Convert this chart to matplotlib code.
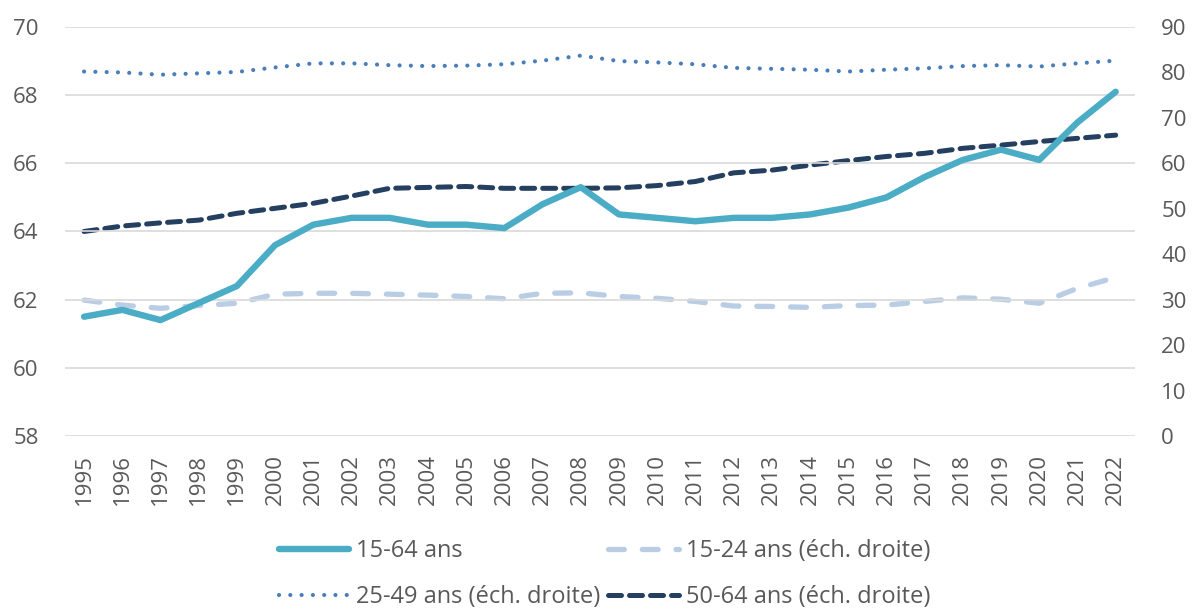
import numpy as np
import matplotlib.pyplot as plt

years = list(range(1995, 2023))

# taux d'emploi (%)
emp_15_64 = [61.5, 61.7, 61.4, 61.9, 62.4, 63.6, 64.2, 64.4, 64.4, 64.2,
             64.2, 64.1, 64.8, 65.3, 64.5, 64.4, 64.3, 64.4, 64.4, 64.5,
             64.7, 65.0, 65.6, 66.1, 66.4, 66.1, 67.2, 68.1]
emp_15_24 = [29.9, 28.8, 28.1, 28.7, 29.2, 31.2, 31.4, 31.4, 31.2, 31.0,
             30.7, 30.2, 31.4, 31.5, 30.7, 30.3, 29.6, 28.6, 28.5, 28.3,
             28.7, 28.8, 29.6, 30.4, 30.1, 29.2, 32.5, 34.9]
emp_25_49 = [80.2, 80.0, 79.5, 79.8, 80.1, 81.1, 82.0, 82.0, 81.6, 81.4,
             81.5, 81.8, 82.6, 83.7, 82.5, 82.2, 81.8, 81.0, 80.8, 80.6,
             80.2, 80.6, 80.9, 81.4, 81.6, 81.3, 82.0, 82.6]
emp_50_64 = [45.0, 46.2, 46.9, 47.5, 49.0, 50.1, 51.2, 52.8, 54.5, 54.7,
             54.9, 54.5, 54.5, 54.5, 54.6, 55.1, 56.0, 57.9, 58.5, 59.6,
             60.6, 61.5, 62.2, 63.3, 64.0, 64.8, 65.5, 66.2]

plt.rcParams['font.family'] = ['Open Sans', 'DejaVu Sans']
txt = '#595959'

fig = plt.figure(figsize=(11.92, 6.12), dpi=100)
ax = fig.add_axes([0.0545, 0.2876, 0.8975, 0.6683])
ax2 = ax.twinx()

x = np.arange(len(years))

# right axis series
l2, = ax2.plot(x, emp_15_24, color='#B9CDE5', lw=3.8, dashes=(3.0, 3.4),
               dash_capstyle='round', label='15-24 ans (éch. droite)')
l3, = ax2.plot(x, emp_25_49, color='#4A7EBB', lw=3.0, dashes=(0.01, 2.7),
               dash_capstyle='round', label='25-49 ans (éch. droite)')
l4, = ax2.plot(x, emp_50_64, color='#243F60', lw=3.6, dashes=(2.6, 1.6),
               dash_capstyle='round', label='50-64 ans (éch. droite)')

# left axis series, drawn on top
ax.set_zorder(ax2.get_zorder() + 1)
ax.patch.set_visible(False)
l1, = ax.plot(x, emp_15_64, color='#4BACC6', lw=4.6, solid_capstyle='round',
              label='15-64 ans')

ax.set_ylim(58, 70)
ax.set_yticks(range(58, 71, 2))
ax2.set_ylim(0, 90)
ax2.set_yticks(range(0, 91, 10))
ax.set_xlim(-0.5, len(years) - 0.5)
ax.set_xticks(x)
ax.set_xticklabels(years, rotation=90)

ax.grid(axis='y', color='#D9D9D9', lw=1.2)
ax.set_axisbelow(True)
for a in (ax, ax2):
    for s in a.spines.values():
        s.set_visible(False)
    a.tick_params(length=0, labelsize=16, colors=txt)
ax.tick_params(axis='y', pad=19)
ax.tick_params(axis='x', pad=13)
ax2.tick_params(axis='y', pad=19)

fig.legend([l1, l3, l2, l4], [l.get_label() for l in (l1, l3, l2, l4)],
           ncol=2, loc='center', bbox_to_anchor=(0.507, 0.062),
           frameon=False, fontsize=17, labelcolor=txt, handlelength=3.0,
           handletextpad=0.3, columnspacing=0.3, labelspacing=0.95)

fig.savefig('out.png', dpi=100)
